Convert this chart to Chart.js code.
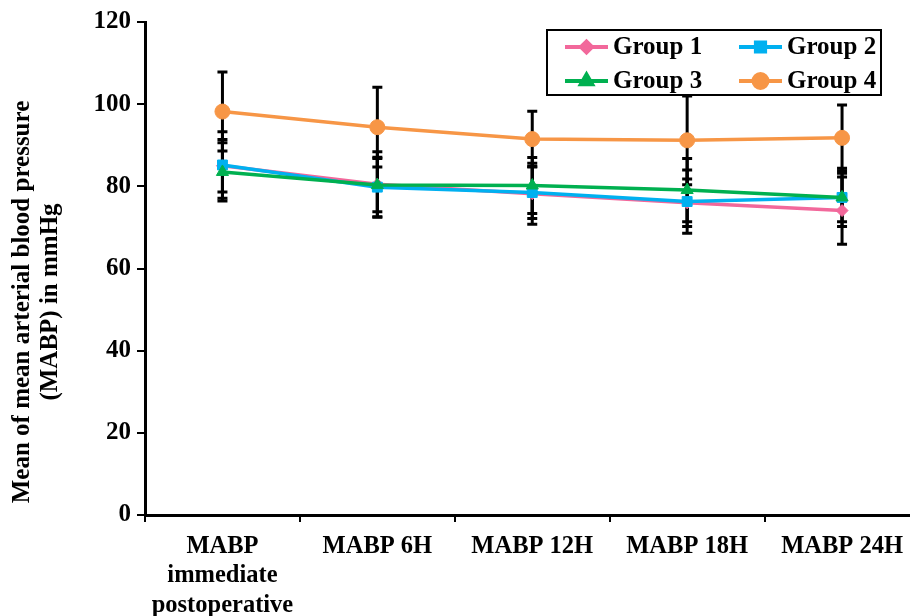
<!DOCTYPE html>
<html>
<head>
<meta charset="utf-8">
<script src="https://cdn.jsdelivr.net/npm/chart.js@4.4.0/dist/chart.umd.min.js"></script>
<style>
html,body{margin:0;padding:0;background:#fff;overflow:hidden;}
#wrap{position:absolute;left:0;top:0;width:928px;height:616px;}
</style>
</head>
<body>
<div id="wrap"><canvas id="c" width="928" height="616"></canvas></div>
<script>
const categories = [['MABP','immediate','postoperative'], 'MABP 6H', 'MABP 12H', 'MABP 18H', 'MABP 24H'];
const seriesNames = ['Group 1', 'Group 2', 'Group 3', 'Group 4'];
const group1 = [85.0, 80.5, 78.2, 76.0, 74.1];
const group2 = [85.2, 79.8, 78.5, 76.3, 77.3];
const group3 = [83.5, 80.3, 80.2, 79.1, 77.3];
const group4 = [98.2, 94.4, 91.5, 91.2, 91.8];
const err1 = [6.4, 7.9, 7.4, 5.8, 8.2];
const err2 = [8.1, 7.3, 6.3, 7.7, 7.1];
const err3 = [7.1, 6.5, 6.8, 7.7, 5.9];
const err4 = [9.6, 9.7, 6.8, 10.8, 8.0];
const yTicks = [0, 20, 40, 60, 80, 100, 120];
const yTitle = ['Mean of mean arterial blood pressure', '(MABP) in mmHg'];

const colors = ['#F2689B', '#00B0F0', '#00B050', '#F79646'];
const styles = ['rectRot', 'rect', 'triangle', 'circle'];
const radii = [6, 7, 7, 7.5];
const values = [group1, group2, group3, group4];
const errors = [err1, err2, err3, err4];
const FONT = "'Liberation Serif', 'Times New Roman', serif";

const errorBars = {
  id: 'errorBars',
  beforeDatasetsDraw(chart) {
    const ctx = chart.ctx, xs = chart.scales.x, ys = chart.scales.y;
    ctx.save();
    ctx.strokeStyle = '#000';
    ctx.lineWidth = 3;
    chart.data.datasets.forEach((ds, i) => {
      const e = errors[i];
      ds.data.forEach((v, j) => {
        const x = xs.getPixelForValue(j);
        const yt = ys.getPixelForValue(v + e[j]);
        const yb = ys.getPixelForValue(v - e[j]);
        ctx.beginPath();
        ctx.moveTo(x, yt); ctx.lineTo(x, yb);
        ctx.moveTo(x - 5, yt); ctx.lineTo(x + 5, yt);
        ctx.moveTo(x - 5, yb); ctx.lineTo(x + 5, yb);
        ctx.stroke();
      });
    });
    ctx.restore();
  }
};

const yTitlePlugin = {
  id: 'yTitlePlugin',
  afterDraw(chart) {
    const ctx = chart.ctx;
    ctx.save();
    ctx.font = 'bold 25px ' + FONT;
    ctx.fillStyle = '#000';
    ctx.textAlign = 'center';
    ctx.textBaseline = 'middle';
    yTitle.forEach((t, i) => {
      ctx.save();
      ctx.translate(23 + i * 28, 302);
      ctx.rotate(-Math.PI / 2);
      ctx.fillText(t, 0, 0);
      ctx.restore();
    });
    ctx.restore();
  }
};

const legendBox = {
  id: 'legendBox',
  afterDraw(chart) {
    const ctx = chart.ctx;
    const bx = 547, by = 30, bw = 334, bh = 65;
    ctx.save();
    ctx.fillStyle = '#fff';
    ctx.fillRect(bx, by, bw, bh);
    ctx.strokeStyle = '#000';
    ctx.lineWidth = 2;
    ctx.strokeRect(bx, by, bw, bh);
    ctx.font = 'bold 25px ' + FONT;
    ctx.textBaseline = 'middle';
    ctx.fillStyle = '#000';
    seriesNames.forEach((name, i) => {
      const col = i % 2, row = Math.floor(i / 2);
      const lx = bx + 18 + col * 174;
      const ly = by + 17 + row * 34;
      ctx.strokeStyle = colors[i];
      ctx.lineWidth = 4;
      ctx.beginPath(); ctx.moveTo(lx, ly); ctx.lineTo(lx + 43, ly); ctx.stroke();
      ctx.fillStyle = colors[i];
      ctx.strokeStyle = colors[i];
      Chart.helpers.drawPoint(ctx, {pointStyle: styles[i], radius: radii[i] - 0.5, borderWidth: 1}, lx + 21.5, ly);
      ctx.fillStyle = '#000';
      ctx.fillText(name, lx + 48, ly + 1);
    });
    ctx.restore();
  }
};

const datasets = seriesNames.map((n, i) => ({
  label: n,
  data: values[i],
  order: seriesNames.length - 1 - i,
  borderColor: colors[i],
  backgroundColor: colors[i],
  borderWidth: 3.5,
  pointStyle: styles[i],
  pointRadius: radii[i],
  pointBackgroundColor: colors[i],
  pointBorderColor: colors[i],
  pointBorderWidth: 1,
  tension: 0
}));

new Chart(document.getElementById('c'), {
  type: 'line',
  data: { labels: categories, datasets },
  options: {
    responsive: false,
    animation: false,
    devicePixelRatio: 1,
    layout: { padding: { top: 22, right: 0, bottom: 0, left: 0 } },
    plugins: { legend: { display: false }, tooltip: { enabled: false } },
    scales: {
      x: {
        type: 'category',
        offset: true,
        grid: { display: true, drawOnChartArea: false, drawTicks: true, tickLength: 7, color: '#000', lineWidth: 2, offset: true },
        border: { display: true, color: '#000', width: 3 },
        ticks: { color: '#000', font: { family: FONT, size: 24.5, weight: 'bold', lineHeight: 1.2 }, maxRotation: 0, autoSkip: false, padding: 10 },
        afterFit(s) { s.height = 101; }
      },
      y: {
        min: 0, max: 120,
        afterBuildTicks(s) { s.ticks = yTicks.map(v => ({ value: v })); },
        grid: { display: true, drawOnChartArea: false, drawTicks: true, tickLength: 8, color: '#000', lineWidth: 2 },
        border: { display: true, color: '#000', width: 3 },
        ticks: { color: '#000', font: { family: FONT, size: 25, weight: 'bold' }, padding: 6 },
        afterFit(s) { s.width = 145; }
      }
    }
  },
  plugins: [errorBars, yTitlePlugin, legendBox]
});
</script>
</body>
</html>
